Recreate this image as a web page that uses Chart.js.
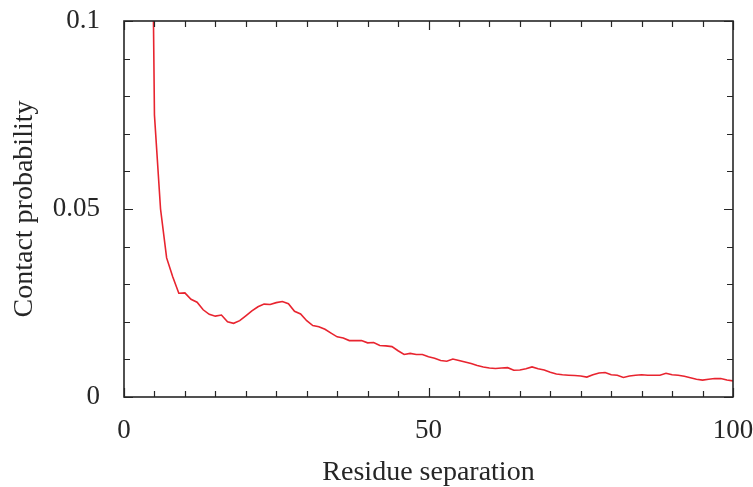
<!DOCTYPE html>
<html>
<head>
<meta charset="utf-8">
<script src="https://cdn.jsdelivr.net/npm/chart.js@4"></script>
<style>
  html, body { margin: 0; padding: 0; background: #fff; }
  #wrap { width: 753px; height: 487px; }
</style>
</head>
<body>
<div id="wrap"><canvas id="chart" width="753" height="487"></canvas></div>
<script>
// residue separation (sequence distance) and measured contact probability
const separation = [
  4, 5, 6, 7, 8, 9, 10, 11, 12, 13, 14, 15, 16, 17, 18, 19, 20, 21, 22, 23, 24,
  25, 26, 27, 28, 29, 30, 31, 32, 33, 34, 35, 36, 37, 38, 39, 40, 41, 42, 43, 44,
  45, 46, 47, 48, 49, 50, 51, 52, 53, 54, 55, 56, 57, 58, 59, 60, 61, 62, 63, 64,
  65, 66, 67, 68, 69, 70, 71, 72, 73, 74, 75, 76, 77, 78, 79, 80, 81, 82, 83, 84,
  85, 86, 87, 88, 89, 90, 91, 92, 93, 94, 95, 96, 97, 98, 99, 100
];
const contactProb = [
  0.23, 0.075, 0.050, 0.037, 0.032, 0.0276, 0.0277, 0.0260, 0.0252, 0.0232, 0.0220,
  0.0215, 0.0218, 0.0200, 0.0196, 0.0203, 0.0216, 0.0229, 0.0240, 0.0247, 0.0246,
  0.0251, 0.0254, 0.0248, 0.0228, 0.0221, 0.0203, 0.0190, 0.0187, 0.0180, 0.0170,
  0.0160, 0.0157, 0.0150, 0.0150, 0.0150, 0.0144, 0.0145, 0.0137, 0.0136, 0.0134,
  0.0123, 0.0113, 0.0116, 0.0113, 0.0113, 0.0107, 0.0103, 0.0097, 0.0095, 0.0101,
  0.0097, 0.0093, 0.0089, 0.0084, 0.0080, 0.0077, 0.0076, 0.0077, 0.0078, 0.0071,
  0.0072, 0.0075, 0.0080, 0.0075, 0.0072, 0.0066, 0.0061, 0.0059, 0.0058, 0.0057,
  0.0056, 0.0053, 0.0059, 0.0064, 0.0065, 0.0059, 0.0058, 0.0052, 0.0056, 0.0058,
  0.0059, 0.0058, 0.0058, 0.0058, 0.0063, 0.0059, 0.0058, 0.0055, 0.0051, 0.0047,
  0.0045, 0.0047, 0.0049, 0.0049, 0.0045, 0.0043
];
const xMajorTicks = [0, 50, 100];
const yMajorTicks = [0, 0.05, 0.1];
const yTickLabels = ['0', '0.05', '0.1'];

const FONT = "'Liberation Serif', 'DejaVu Serif', serif";
const INK = '#262626';

// box frame with inward ticks on all four sides (minor every 5 / 0.01)
const frameTicks = {
  id: 'frameTicks',
  afterDraw(chart) {
    const { ctx, chartArea: a, scales: { x, y } } = chart;
    ctx.save();
    ctx.strokeStyle = INK;
    ctx.lineWidth = 1.2;
    for (let v = 0; v <= 100; v += 5) {
      const px = Math.round(x.getPixelForValue(v)) + 0.5;
      const len = xMajorTicks.includes(v) ? 9 : 6;
      ctx.beginPath();
      ctx.moveTo(px, a.bottom); ctx.lineTo(px, a.bottom - len);
      ctx.moveTo(px, a.top); ctx.lineTo(px, a.top + len);
      ctx.stroke();
    }
    for (let i = 0; i <= 10; i++) {
      const py = Math.round(y.getPixelForValue(i / 100)) + 0.5;
      const len = (i % 5 === 0) ? 9 : 6;
      ctx.beginPath();
      ctx.moveTo(a.left, py); ctx.lineTo(a.left + len, py);
      ctx.moveTo(a.right, py); ctx.lineTo(a.right - len, py);
      ctx.stroke();
    }
    ctx.lineWidth = 1.6;
    ctx.strokeRect(a.left, a.top, a.right - a.left, a.bottom - a.top);
    ctx.restore();
  }
};

new Chart(document.getElementById('chart'), {
  type: 'line',
  data: {
    datasets: [{
      data: separation.map((s, i) => ({ x: s, y: contactProb[i] })),
      borderColor: '#e8242f',
      borderWidth: 1.6,
      pointRadius: 0,
      tension: 0,
      fill: false
    }]
  },
  options: {
    responsive: false,
    animation: false,
    layout: { padding: { top: 21, right: 20, left: 0, bottom: 0 } },
    plugins: { legend: { display: false }, tooltip: { enabled: false } },
    scales: {
      x: {
        type: 'linear', min: 0, max: 100,
        afterBuildTicks: s => { s.ticks = xMajorTicks.map(v => ({ value: v })); },
        afterFit: s => { s.height = 90; s.paddingLeft = 0; s.paddingRight = 0; },
        grid: { display: false, drawTicks: false },
        border: { display: false },
        ticks: { color: INK, font: { family: FONT, size: 27 }, padding: 18, maxRotation: 0 },
        title: {
          display: true, text: 'Residue separation', color: INK,
          font: { family: FONT, size: 28, lineHeight: 1 }, padding: { top: 0, bottom: 0 }
        }
      },
      y: {
        type: 'linear', min: 0, max: 0.1,
        afterBuildTicks: s => { s.ticks = yMajorTicks.map(v => ({ value: v })); },
        afterFit: s => { s.width = 124; s.paddingTop = 0; s.paddingBottom = 0; },
        grid: { display: false, drawTicks: false },
        border: { display: false },
        ticks: {
          color: INK, font: { family: FONT, size: 27 }, padding: 24,
          callback: (v, i) => yTickLabels[i]
        },
        title: {
          display: true, text: 'Contact probability', color: INK,
          font: { family: FONT, size: 28, lineHeight: 1 }, padding: { top: 11, bottom: 0 }
        }
      }
    }
  },
  plugins: [frameTicks]
});
</script>
</body>
</html>
